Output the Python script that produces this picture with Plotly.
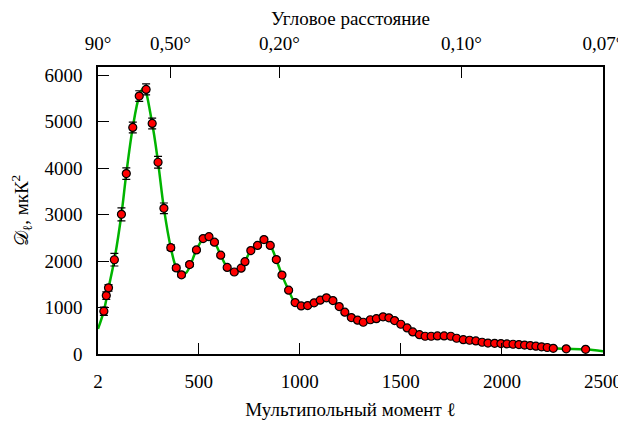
import plotly.graph_objects as go

ell = [31, 43, 54, 83, 118, 142, 174, 206, 240, 270, 299, 328, 362, 389, 415,
       455, 489, 522, 551, 578, 609, 641, 676, 710, 729, 758, 791, 823, 854,
       884, 912, 945, 977, 1007, 1039, 1071, 1101, 1132, 1164, 1195, 1223,
       1255, 1286, 1314, 1349, 1379, 1412, 1441, 1469, 1500, 1531, 1559, 1592,
       1620, 1650, 1681, 1714, 1747, 1776, 1809, 1840, 1871, 1902, 1931, 1964,
       1995, 2025, 2055, 2084, 2112, 2140, 2168, 2196, 2224, 2254, 2318, 2414]
dl = [922, 1258, 1425, 2030, 3007, 3885, 4878, 5554, 5698, 4964, 4129, 3136,
      2290, 1853, 1705, 1925, 2242, 2486, 2526, 2408, 2127, 1864, 1766, 1848,
      1989, 2227, 2338, 2464, 2338, 2033, 1699, 1374, 1108, 1036, 1043, 1101,
      1159, 1209, 1151, 1022, 900, 784, 728, 684, 737, 760, 800, 780, 719, 641,
      561, 475, 417, 382, 382, 389, 389, 382, 339, 309, 296, 281, 253, 235,
      230, 225, 218, 210, 202, 192, 181, 168, 155, 140, 122, 112, 100]
dl_err = [90, 80, 70, 135, 140, 125, 115, 115, 120, 115, 125, 115, 60, 50, 45,
          45, 40, 40, 40, 40, 35, 35, 35, 35, 35, 35, 35, 35, 35, 35, 30, 30,
          30, 30, 30, 30, 30, 30, 30, 30, 30, 30, 30, 30, 30, 30, 30, 30, 30,
          30, 30, 30, 30, 30, 30, 30, 30, 30, 30, 30, 30, 30, 30, 30, 30, 30,
          30, 30, 30, 30, 30, 30, 30, 30, 30, 30, 30]

# Best-fit model curve
model_l = [2, 31, 54, 83, 118, 142, 174, 206, 228, 270, 299, 328, 362, 389,
           412, 440, 489, 522, 545, 578, 609, 641, 675, 710, 758, 791, 818,
           854, 884, 912, 945, 977, 1020, 1071, 1132, 1195, 1255, 1314, 1379,
           1420, 1469, 1531, 1592, 1650, 1714, 1776, 1840, 1902, 1964, 2028,
           2084, 2140, 2196, 2254, 2318, 2414, 2500]
model_dl = [540, 930, 1420, 2030, 3010, 3885, 4880, 5555, 5740, 4965, 4130,
            3136, 2290, 1853, 1700, 1760, 2242, 2486, 2535, 2408, 2127, 1864,
            1762, 1850, 2227, 2338, 2468, 2338, 2033, 1699, 1374, 1108, 1030,
            1101, 1209, 1022, 784, 684, 760, 800, 719, 561, 417, 382, 389, 339,
            296, 253, 230, 218, 202, 181, 155, 122, 112, 100, 60]

x_tickvals = [2, 500, 1000, 1500, 2000, 2500]
x_ticktext = ["2", "500", "1000", "1500", "2000", "2500"]
top_tickvals = [2, 360, 900, 1800, 2500]
top_ticktext = ["90°", "0,50°", "0,20°", "0,10°", "0,07°"]
y_tickvals = [0, 1000, 2000, 3000, 4000, 5000, 6000]

SERIF = "Times New Roman"
FS = 19
font_main = dict(family=SERIF, size=FS, color="black")

fig = go.Figure()
fig.add_trace(go.Scatter(
    x=model_l, y=model_dl, mode="lines",
    line=dict(color="#00b400", width=2.5, shape="spline", smoothing=1.0),
    hoverinfo="skip"))
fig.add_trace(go.Scatter(
    x=ell, y=dl, mode="markers",
    marker=dict(color="#ff0000", size=8, line=dict(color="black", width=1.2)),
    error_y=dict(type="data", array=dl_err, color="black", thickness=1.2, width=4)))
# invisible trace to anchor the top (angular) axis
fig.add_trace(go.Scatter(
    x=model_l, y=model_dl, xaxis="x2", mode="lines",
    line=dict(width=0, color="rgba(0,0,0,0)"), hoverinfo="skip"))

axis_common = dict(showline=True, linecolor="black", linewidth=1.5,
                   ticks="inside", ticklen=11, tickwidth=1.2, tickcolor="black",
                   showgrid=False, zeroline=False, automargin=False,
                   tickfont=font_main)

fig.update_layout(
    width=618, height=415,
    margin=dict(l=90, r=23, t=59, b=69),
    paper_bgcolor="white", plot_bgcolor="white",
    showlegend=False,
    font=font_main,
    xaxis=dict(range=[2, 2500], tickvals=x_tickvals, ticktext=x_ticktext,
               ticklabelstandoff=9,
               title=dict(text="Мультипольный момент ℓ", standoff=12, font=font_main),
               **axis_common),
    xaxis2=dict(range=[2, 2500], overlaying="x", side="top",
                tickvals=top_tickvals, ticktext=top_ticktext,
                ticklabelstandoff=8,
                title=dict(text="Угловое расстояние", standoff=5, font=font_main),
                **axis_common),
    yaxis=dict(range=[0, 6180], tickvals=y_tickvals, mirror=True,
               ticklabelstandoff=10,
               title=dict(text="𝒟<sub>ℓ</sub>, мкК<sup>2</sup>", standoff=12,
                          font=font_main),
               **axis_common),
)

fig.write_html("out.html")
